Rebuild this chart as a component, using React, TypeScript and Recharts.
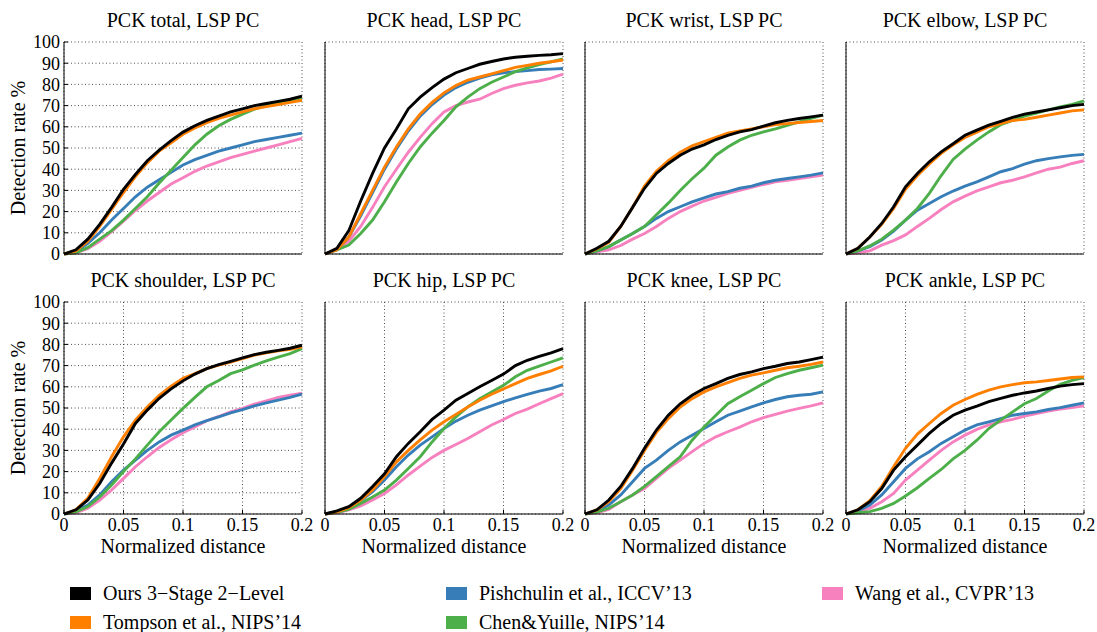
import { CartesianGrid, Line, LineChart, XAxis, YAxis } from 'recharts'

// normalized distance sample points
const distances = [0, 0.01, 0.02, 0.03, 0.04, 0.05, 0.06, 0.07, 0.08, 0.09, 0.1, 0.11, 0.12, 0.13, 0.14, 0.15, 0.16, 0.17, 0.18, 0.19, 0.2]
const xTicks = [0, 0.05, 0.1, 0.15, 0.2]
const yTicks = [0, 10, 20, 30, 40, 50, 60, 70, 80, 90, 100]

// PCK total
const totalOurs = [0, 2, 7, 14, 22, 30.5, 37.5, 44, 49, 53.5, 57.5, 60.5, 63, 65, 67, 68.5, 70, 71, 72, 73, 74.5]
const totalTompson = [0, 1.5, 6, 13, 21, 29, 36.5, 43, 48.5, 52.5, 56.5, 59.5, 62, 64, 65.5, 67, 68.5, 69.5, 70.5, 71.5, 72.5]
const totalPishchulin = [0, 1, 5, 10, 16, 21.5, 27, 31.5, 35, 38.5, 42, 44.5, 46.5, 48.5, 50, 51.5, 53, 54, 55, 56, 57]
const totalChen = [0, 0.5, 3, 7, 11, 16, 21.5, 27, 33.5, 39.5, 45.5, 51.5, 56.5, 60.5, 63.5, 66, 68.3, 70, 71.5, 72.5, 73.6]
const totalWang = [0, 0.5, 2.5, 6, 10.5, 15.5, 20.5, 25, 29, 33, 36, 39, 41.5, 43.5, 45.5, 47, 48.5, 50, 51.5, 53, 54.5]

// PCK head
const headOurs = [0, 2.7, 11, 25, 38, 50, 59, 68.5, 74, 78.5, 82.5, 85.5, 87.5, 89.5, 90.8, 92, 92.8, 93.3, 93.7, 94, 94.5]
const headTompson = [0, 2, 8, 19, 30, 41, 50.5, 59, 66, 71.5, 76, 79.5, 82, 83.5, 85, 86.5, 88, 89, 90, 90.7, 91.5]
const headPishchulin = [0, 2, 8, 18, 29, 40, 49.5, 58, 65, 70.5, 75, 78.5, 81, 83, 84.5, 85.5, 86, 86.5, 87, 87.2, 87.5]
const headChen = [0, 1.9, 4.2, 9.7, 16, 24.6, 34, 42.7, 50.5, 57, 63, 69.4, 74, 78, 81, 83.5, 86, 87.8, 89.3, 90.6, 92]
const headWang = [0, 2, 6, 13, 22, 31.7, 40, 48, 55, 61.5, 67, 70, 71.7, 73, 75.7, 78, 79.6, 80.7, 81.6, 83, 84.8]

// PCK wrist
const wristOurs = [0, 2.7, 6, 13, 22, 31, 38, 42.7, 46.6, 49.5, 51.5, 54, 56, 57.6, 58.7, 60.3, 61.9, 63, 63.9, 64.7, 65.5]
const wristTompson = [0, 2.5, 5.5, 13, 22, 32, 39, 44, 48, 51, 53, 55, 57, 58, 59, 60, 61, 61.5, 62, 62.5, 63]
const wristPishchulin = [0, 1.5, 3.5, 6.6, 9.7, 13, 16.8, 20, 22.3, 24.6, 26.5, 28.3, 29.4, 31, 32, 33.6, 34.8, 35.6, 36.4, 37.2, 38.3]
const wristChen = [0, 1.5, 3.5, 6.6, 9.7, 13, 18.5, 24, 30, 35.5, 40.5, 46.6, 50.5, 53.7, 56, 57.6, 59, 60.7, 62.3, 64, 65.5]
const wristWang = [0, 1, 2, 4, 7, 9.7, 13, 16.8, 20, 22.6, 25, 26.7, 28.6, 30, 31.4, 32.8, 34, 34.8, 35.6, 36.4, 37.2]

// PCK elbow
const elbowOurs = [0, 2.7, 8, 14.4, 22.3, 31.7, 38, 43.5, 48.2, 52, 56, 58.4, 60.8, 62.6, 64.4, 66, 67, 68, 69, 70, 70.6]
const elbowTompson = [0, 2.7, 8, 14, 21.5, 30.5, 37, 42.5, 47.5, 51.5, 55, 57.5, 60, 61.5, 63, 63.5, 64.5, 65.5, 66.5, 67.5, 68]
const elbowPishchulin = [0, 1.5, 3.5, 6.6, 10.8, 16, 20.7, 23.8, 27, 29.7, 32, 34, 36.4, 38.8, 40.3, 42.4, 44, 45, 45.8, 46.5, 47]
const elbowChen = [0, 1.5, 3.8, 7, 11.3, 16, 21.5, 28.6, 37, 44.6, 49.5, 53.7, 57.6, 61, 63, 65, 66.5, 68, 69.4, 70.6, 72.2]
const elbowWang = [0, 0.6, 1.5, 4.2, 6.3, 9, 13, 16.8, 21, 24.6, 27.3, 29.8, 31.7, 33.6, 34.8, 36.4, 38.3, 40, 41, 42.7, 44]

// PCK shoulder
const shoulderOurs = [0, 2, 6.6, 14.4, 24, 33, 42.7, 49, 54.6, 59, 62.8, 66, 68.6, 70.5, 72, 73.6, 75.2, 76.3, 77.2, 78.2, 79.6]
const shoulderTompson = [0, 2, 7.4, 16.8, 27, 36.4, 44.3, 50.5, 56, 60.3, 64, 66.2, 68.6, 70.2, 71.7, 73.3, 75, 76, 77, 77.7, 78.8]
const shoulderPishchulin = [0, 1.5, 4.2, 9, 15.2, 20.7, 25.4, 30, 34, 37.2, 39.6, 42, 44, 45.8, 47.7, 49.2, 51, 52.4, 53.7, 55, 56.5]
const shoulderChen = [0, 1, 3.5, 8, 13.7, 20, 26, 32.5, 38.8, 44.3, 49.8, 55, 60, 63, 66.2, 68, 70.2, 72.2, 74, 75.7, 78]
const shoulderWang = [0, 0.6, 2.7, 6.6, 11.3, 16.8, 22.3, 27, 31.4, 35, 38.3, 41, 44, 46, 48.2, 49.8, 51.8, 53.4, 55, 56, 57]

// PCK hip
const hipOurs = [0, 1.5, 3.5, 7.4, 13, 19, 27, 33.3, 38.8, 44.6, 49, 53.7, 56.8, 60, 63, 66, 70, 72.5, 74.4, 76, 78]
const hipTompson = [0, 1, 3, 6.6, 11.3, 17.6, 24.6, 30, 35, 39.6, 43.5, 47, 50.5, 53.7, 56.5, 59, 61.5, 64, 65.8, 67.5, 69.7]
const hipPishchulin = [0, 1, 3, 6.3, 10.5, 16, 22.3, 27.8, 32.5, 36.4, 40.3, 43.8, 46.6, 49, 51, 53, 54.8, 56.4, 58, 59.2, 61]
const hipChen = [0, 0.8, 2.2, 5, 8, 11.3, 16, 21.5, 27, 34, 40.3, 45.8, 50.5, 54.4, 57.6, 60.7, 64.7, 67.8, 69.7, 71.7, 73.6]
const hipWang = [0, 0.6, 1.9, 3.8, 6.6, 9.7, 13.7, 18.4, 22.6, 26.7, 30, 32.8, 35.6, 38.8, 42, 44.6, 47.4, 49.5, 52, 54.4, 56.8]

// PCK knee
const kneeOurs = [0, 2, 6.6, 13, 21.5, 31, 39.6, 46.6, 52, 56, 59.2, 61.5, 64, 65.8, 67, 68.6, 69.7, 71, 71.7, 72.8, 74]
const kneeTompson = [0, 1.9, 5.8, 12, 20.7, 30, 38.5, 45, 50.5, 54.4, 57.6, 60, 62, 64, 65.5, 66.6, 67.8, 69, 69.7, 70.6, 71.7]
const kneePishchulin = [0, 1.5, 4.2, 9, 15.2, 21.5, 25.4, 30, 34, 37.2, 40.3, 43.5, 46.6, 48.5, 50.5, 52.4, 54, 55.3, 56, 56.5, 57.6]
const kneeChen = [0, 0.9, 2.7, 5.8, 9, 13, 17.6, 22.3, 27, 34.8, 41, 46.6, 52, 55.3, 58.4, 61.5, 64.4, 66.2, 67.8, 69, 70.2]
const kneeWang = [0, 0.6, 2.2, 5.8, 9, 12, 16.8, 21.5, 25.4, 29.4, 33.3, 36.4, 38.8, 41, 43.5, 45.5, 47, 48.5, 49.8, 51, 52.4]

// PCK ankle
const ankleOurs = [0, 2, 5.8, 12, 20.7, 27, 32.5, 38, 42.7, 46.6, 49, 50.9, 53, 54.5, 56, 57.1, 58, 59.2, 60.3, 61, 61.5]
const ankleTompson = [0, 2, 6.3, 13, 22.3, 31, 37.7, 42.7, 47.4, 51.3, 54, 56.4, 58.4, 60, 61, 61.9, 62.3, 63, 63.7, 64.4, 64.7]
const anklePishchulin = [0, 1.5, 4.2, 9, 15.2, 21.5, 26, 29.4, 33.3, 36.4, 39.6, 42, 43.5, 45, 46.6, 47.4, 48.2, 49.3, 50.2, 51.3, 52.4]
const ankleChen = [0, 0.6, 1.1, 2.7, 5, 8.5, 12.4, 16.8, 21, 26, 30, 34.8, 40.3, 44.3, 48.2, 52, 54.5, 58, 61.2, 63, 64.4]
const ankleWang = [0, 1.1, 2.7, 5.8, 9.7, 16, 20.7, 25.4, 30, 34, 37.2, 39.9, 42, 43.5, 44.6, 46.2, 47.4, 48.5, 49.5, 50.2, 51]

const panelTitles = [
  'PCK total, LSP PC', 'PCK head, LSP PC', 'PCK wrist, LSP PC', 'PCK elbow, LSP PC',
  'PCK shoulder, LSP PC', 'PCK hip, LSP PC', 'PCK knee, LSP PC', 'PCK ankle, LSP PC',
]
const panelSeries = [
  [totalOurs, totalTompson, totalPishchulin, totalChen, totalWang],
  [headOurs, headTompson, headPishchulin, headChen, headWang],
  [wristOurs, wristTompson, wristPishchulin, wristChen, wristWang],
  [elbowOurs, elbowTompson, elbowPishchulin, elbowChen, elbowWang],
  [shoulderOurs, shoulderTompson, shoulderPishchulin, shoulderChen, shoulderWang],
  [hipOurs, hipTompson, hipPishchulin, hipChen, hipWang],
  [kneeOurs, kneeTompson, kneePishchulin, kneeChen, kneeWang],
  [ankleOurs, ankleTompson, anklePishchulin, ankleChen, ankleWang],
]

const methods = [
  { key: 'ours', name: 'Ours 3\u2212Stage 2\u2212Level', color: '#000000' },
  { key: 'tompson', name: 'Tompson et al., NIPS\u201914', color: '#ff7f00' },
  { key: 'pishchulin', name: 'Pishchulin et al., ICCV\u201913', color: '#377eb8' },
  { key: 'chen', name: 'Chen&Yuille, NIPS\u201914', color: '#4daf4a' },
  { key: 'wang', name: 'Wang et al., CVPR\u201913', color: '#f781bf' },
]
// draw order: bottom to top
const drawOrder = ['wang', 'pishchulin', 'chen', 'tompson', 'ours']

const FONT = '"Liberation Serif", "Times New Roman", Times, "DejaVu Serif", serif'
const PLOT_W = 238
const PLOT_H = 212
const colLefts = [64, 325, 585, 846]
const rowTops = [42, 302]
const Y_AXIS_W = 60
const X_AXIS_H = 30
const PAD_TOP = 10
const PAD_RIGHT = 18

function Panel({ index }: { index: number }) {
  const col = index % 4
  const row = Math.floor(index / 4)
  const series = panelSeries[index]
  const data = distances.map((x, i) => {
    const point: Record<string, number> = { x }
    methods.forEach((m, k) => {
      point[m.key] = series[k][i]
    })
    return point
  })
  const left = colLefts[col]
  const top = rowTops[row]

  return (
    <>
      <div
        style={{
          position: 'absolute',
          left: left - 20,
          top: top - 32,
          width: PLOT_W + 40,
          textAlign: 'center',
          fontFamily: FONT,
          fontSize: 20,
          lineHeight: '20px',
          color: '#000',
        }}
      >
        {panelTitles[index]}
      </div>
      <div style={{ position: 'absolute', left: left - Y_AXIS_W, top: top - PAD_TOP }}>
        <LineChart
          width={Y_AXIS_W + PLOT_W + PAD_RIGHT}
          height={PAD_TOP + PLOT_H + X_AXIS_H}
          data={data}
          margin={{ top: PAD_TOP, right: PAD_RIGHT, bottom: 0, left: 0 }}
        >
          <CartesianGrid stroke="#222" strokeDasharray="1 2.5" strokeWidth={0.8} />
          <XAxis
            type="number"
            dataKey="x"
            domain={[0, 0.2]}
            ticks={xTicks}
            interval={0}
            height={X_AXIS_H}
            tickLine={{ stroke: '#000', strokeWidth: 1 }}
            tickSize={-4}
            tickMargin={8}
            axisLine={{ stroke: '#000', strokeWidth: 1 }}
            tick={row === 1 ? { fill: '#000', fontSize: 18, fontFamily: FONT } : false}
            tickFormatter={(v) => String(v)}
          />
          <YAxis
            type="number"
            domain={[0, 100]}
            ticks={yTicks}
            interval={0}
            width={Y_AXIS_W}
            tickLine={{ stroke: '#000', strokeWidth: 1 }}
            tickSize={-4}
            tickMargin={8}
            axisLine={{ stroke: '#000', strokeWidth: 1 }}
            tick={col === 0 ? { fill: '#000', fontSize: 18, fontFamily: FONT } : false}
          />
          {drawOrder.map((key) => {
            const m = methods.find((mm) => mm.key === key)!
            return (
              <Line
                key={key}
                type="linear"
                dataKey={key}
                stroke={m.color}
                strokeWidth={2.9}
                dot={false}
                isAnimationActive={false}
              />
            )
          })}
        </LineChart>
      </div>
      {row === 1 && (
        <div
          style={{
            position: 'absolute',
            left: left - 20,
            top: top + PLOT_H + 22,
            width: PLOT_W + 40,
            textAlign: 'center',
            fontFamily: FONT,
            fontSize: 20,
            lineHeight: '20px',
          }}
        >
          Normalized distance
        </div>
      )}
      {col === 0 && (
        <div
          style={{
            position: 'absolute',
            left: 18 - 80,
            top: top + PLOT_H / 2 - 10,
            width: 160,
            textAlign: 'center',
            fontFamily: FONT,
            fontSize: 20,
            lineHeight: '20px',
            transform: 'rotate(-90deg)',
          }}
        >
          Detection rate %
        </div>
      )}
    </>
  )
}

const legendSlots = [
  { key: 'ours', x: 70, y: 593 },
  { key: 'tompson', x: 70, y: 622 },
  { key: 'pishchulin', x: 446, y: 593 },
  { key: 'chen', x: 446, y: 622 },
  { key: 'wang', x: 822, y: 593 },
]

export default function App() {
  return (
    <div
      style={{
        position: 'absolute',
        left: 0,
        top: 0,
        width: 1097,
        height: 632,
        background: '#fff',
        overflow: 'hidden',
      }}
    >
      {panelTitles.map((_, i) => (
        <Panel key={i} index={i} />
      ))}
      {legendSlots.map((s) => {
        const m = methods.find((mm) => mm.key === s.key)!
        return (
          <div
            key={s.key}
            style={{
              position: 'absolute',
              left: s.x,
              top: s.y - 11,
              height: 22,
              display: 'flex',
              alignItems: 'center',
              fontFamily: FONT,
              fontSize: 20,
              whiteSpace: 'nowrap',
            }}
          >
            <span
              style={{
                display: 'inline-block',
                width: 21,
                height: 13,
                background: m.color,
                marginRight: 12,
              }}
            />
            {m.name}
          </div>
        )
      })}
    </div>
  )
}
